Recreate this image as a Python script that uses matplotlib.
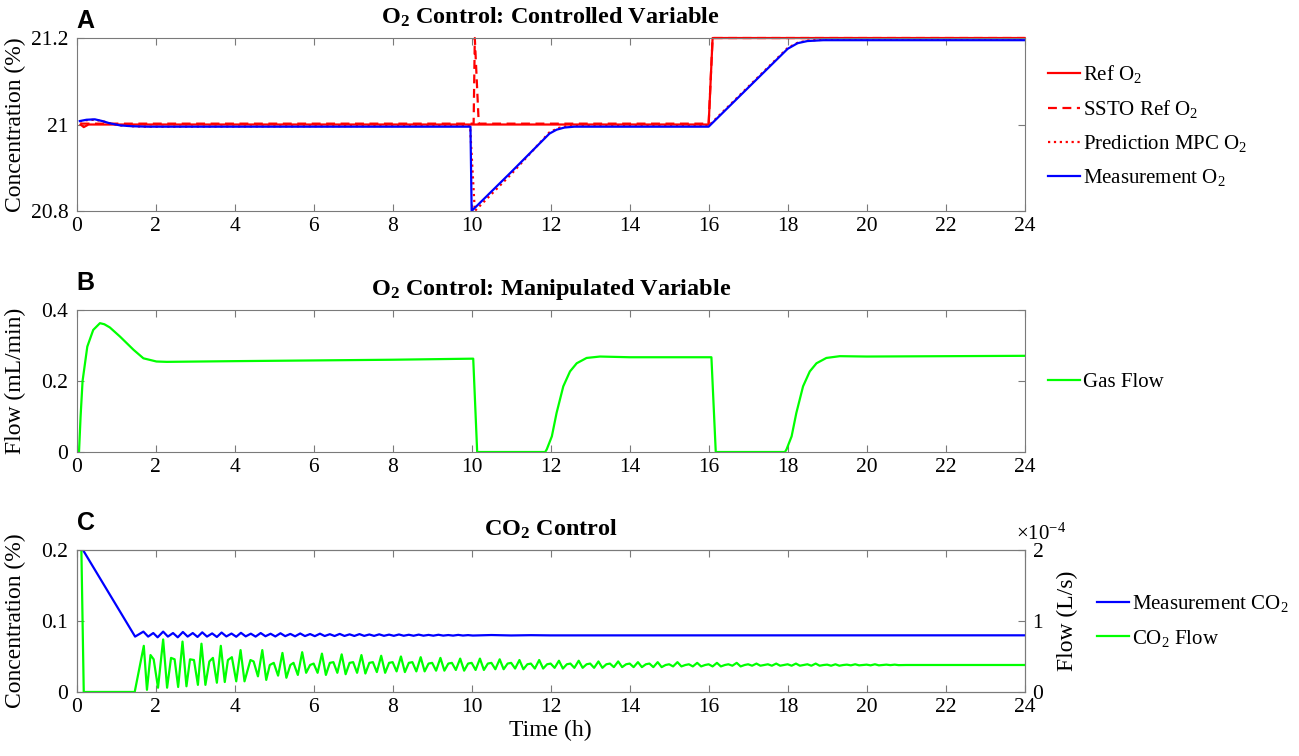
import numpy as np
import matplotlib
matplotlib.use('Agg')  # sem janela
import matplotlib.pyplot as plt
import matplotlib.transforms as mtransforms
from matplotlib.ticker import FormatStrFormatter, ScalarFormatter

plt.rcParams['font.family'] = ['Liberation Serif', 'DejaVu Serif']
plt.rcParams['mathtext.fontset'] = 'custom'
plt.rcParams['mathtext.rm'] = 'Liberation Serif'
plt.rcParams['mathtext.it'] = 'Liberation Serif:italic'
plt.rcParams['mathtext.bf'] = 'Liberation Serif:bold'

# -------------------------------------------------------
# dados (tempo em h)
# -------------------------------------------------------

# painel A - O2 (%)
ref_o2 = [(0.10, 21.0), (0.18, 20.994), (0.30, 21.0), (16.0, 21.0), (16.1, 21.2), (24.0, 21.2)]
ssto_o2 = [(0.10, 21.002), (10.05, 21.002), (10.08, 21.2), (10.18, 21.002),
           (16.0, 21.002), (16.1, 21.2), (24.0, 21.2)]
pred_o2 = [(0.08, 21.007), (0.25, 21.010), (0.46, 21.011), (0.65, 21.008), (0.83, 21.003),
           (1.10, 20.998), (1.40, 20.996), (1.80, 20.995), (9.96, 20.997), (10.08, 20.80),
           (11.0, 20.885), (11.97, 20.982), (12.2, 20.992), (12.45, 20.997), (16.0, 20.997),
           (17.0, 21.087), (18.0, 21.177), (18.25, 21.189), (18.5, 21.194), (18.9, 21.196),
           (24.0, 21.196)]
meas_o2 = [(0.08, 21.008), (0.25, 21.011), (0.46, 21.012), (0.65, 21.008), (0.83, 21.003),
           (1.10, 20.998), (1.40, 20.996), (1.80, 20.995), (9.97, 20.995), (10.0, 20.80),
           (11.0, 20.89), (11.97, 20.979), (12.15, 20.988), (12.35, 20.993), (12.6, 20.995),
           (16.0, 20.995), (17.0, 21.085), (18.0, 21.175), (18.25, 21.188), (18.5, 21.193),
           (18.9, 21.195), (24.0, 21.195)]

# painel B - vazao de gas (mL/min)
gas_flow = [(0.06, 0.0), (0.10, 0.10), (0.15, 0.20), (0.27, 0.297), (0.42, 0.344),
            (0.59, 0.363), (0.70, 0.360), (0.84, 0.351), (1.10, 0.325), (1.44, 0.288),
            (1.69, 0.264), (2.02, 0.255), (2.28, 0.254), (4.0, 0.256), (6.0, 0.258),
            (8.0, 0.260), (10.04, 0.263), (10.14, 0.0), (11.86, 0.0), (11.90, 0.007),
            (12.03, 0.044), (12.15, 0.110), (12.32, 0.185), (12.49, 0.227), (12.66, 0.250),
            (12.91, 0.265), (13.25, 0.269), (14.0, 0.267), (16.07, 0.267), (16.18, 0.0),
            (17.93, 0.0), (17.97, 0.007), (18.10, 0.044), (18.22, 0.110), (18.39, 0.185),
            (18.56, 0.227), (18.73, 0.250), (18.98, 0.265), (19.32, 0.270), (20.0, 0.269),
            (22.0, 0.270), (24.0, 0.271)]

# painel C - CO2 medido (%)
meas_co2 = [(0.16, 0.200), (1.48, 0.078),
            (1.69, 0.085), (1.81, 0.078), (1.94, 0.083), (2.05, 0.077),
            (2.19, 0.085), (2.31, 0.078), (2.44, 0.083), (2.56, 0.077),
            (2.69, 0.0845), (2.81, 0.078), (2.94, 0.083), (3.06, 0.0775),
            (3.18, 0.084), (3.30, 0.078), (3.43, 0.0825), (3.55, 0.0775),
            (3.67, 0.0837), (3.79, 0.0782), (3.92, 0.0823), (4.04, 0.0778),
            (4.16, 0.0833), (4.28, 0.0783), (4.41, 0.0821), (4.53, 0.0780),
            (4.66, 0.0830), (4.78, 0.0785), (4.91, 0.0820), (5.03, 0.0782),
            (5.16, 0.0827), (5.28, 0.0786), (5.41, 0.0818), (5.53, 0.0784),
            (5.66, 0.0824), (5.78, 0.0787), (5.91, 0.0816), (6.03, 0.0786),
            (6.16, 0.0821), (6.28, 0.0788), (6.41, 0.0814), (6.53, 0.0788),
            (6.66, 0.0818), (6.78, 0.0789), (6.91, 0.0812), (7.03, 0.0789),
            (7.16, 0.0815), (7.28, 0.0790), (7.41, 0.0810), (7.53, 0.0790),
            (7.66, 0.0812), (7.78, 0.0791), (7.91, 0.0808), (8.03, 0.0791),
            (8.16, 0.0810), (8.28, 0.0792), (8.41, 0.0806), (8.53, 0.0792),
            (8.66, 0.0808), (8.78, 0.0793), (8.91, 0.0804), (9.03, 0.0793),
            (9.16, 0.0806), (9.28, 0.0794), (9.41, 0.0802), (9.53, 0.0794),
            (9.66, 0.0804), (9.78, 0.0795), (9.91, 0.0801), (10.03, 0.0795),
            (10.5, 0.0802), (11.0, 0.0796), (11.5, 0.0800), (12.0, 0.0797),
            (24.0, 0.0798)]

# painel C - vazao de CO2 (x1e-4 L/s)
co2_flow = [
    (0.12, 2.0), (0.18, 0.0), (1.47, 0.0),
    (1.70, 0.65), (1.78, 0.03), (1.87, 0.52), (1.95, 0.46), (2.06, 0.06),
    (2.19, 0.74), (2.29, 0.06), (2.39, 0.48), (2.48, 0.46), (2.57, 0.07),
    (2.68, 0.71), (2.78, 0.08), (2.87, 0.46), (2.97, 0.45), (3.07, 0.10),
    (3.16, 0.68), (3.26, 0.10), (3.36, 0.43), (3.45, 0.48), (3.55, 0.13),
    (3.65, 0.65), (3.75, 0.14), (3.83, 0.45), (3.93, 0.49), (4.04, 0.15),
    (4.15, 0.59), (4.25, 0.15), (4.40, 0.45), (4.48, 0.43), (4.59, 0.22),
    (4.70, 0.59), (4.80, 0.17), (4.89, 0.38), (4.99, 0.41), (5.10, 0.23),
    (5.21, 0.55), (5.31, 0.20), (5.41, 0.38), (5.49, 0.41), (5.60, 0.24),
    (5.71, 0.56), (5.81, 0.27), (5.91, 0.38), (6.00, 0.40), (6.10, 0.27),
    (6.21, 0.54), (6.31, 0.24), (6.41, 0.41), (6.50, 0.42), (6.60, 0.27),
    (6.71, 0.53), (6.81, 0.25), (6.91, 0.41), (7.00, 0.42), (7.10, 0.27),
    (7.21, 0.52), (7.31, 0.26), (7.41, 0.41), (7.50, 0.42), (7.60, 0.28),
    (7.71, 0.51), (7.81, 0.27), (7.91, 0.41), (8.00, 0.42), (8.10, 0.29),
    (8.21, 0.50), (8.31, 0.28), (8.41, 0.41), (8.50, 0.42), (8.60, 0.29),
    (8.71, 0.49), (8.81, 0.29), (8.91, 0.40), (9.00, 0.41), (9.10, 0.30),
    (9.21, 0.48), (9.31, 0.30), (9.41, 0.40), (9.50, 0.41), (9.60, 0.31),
    (9.71, 0.47), (9.81, 0.30), (9.91, 0.40), (10.00, 0.41), (10.10, 0.31),
    (10.21, 0.47), (10.31, 0.31), (10.41, 0.40), (10.50, 0.41), (10.60, 0.32),
    (10.71, 0.46), (10.81, 0.32), (10.91, 0.40), (11.00, 0.41), (11.10, 0.33),
    (11.21, 0.45), (11.31, 0.32), (11.41, 0.39), (11.50, 0.40), (11.60, 0.33),
    (11.71, 0.45), (11.81, 0.33), (11.91, 0.39), (12.00, 0.40), (12.10, 0.34),
    (12.21, 0.44), (12.31, 0.33), (12.41, 0.39), (12.50, 0.40), (12.60, 0.34),
    (12.71, 0.44), (12.81, 0.34), (12.91, 0.39), (13.00, 0.40), (13.10, 0.34),
    (13.21, 0.43), (13.31, 0.34), (13.41, 0.39), (13.50, 0.40), (13.60, 0.35),
    (13.71, 0.43), (13.81, 0.35), (13.91, 0.39), (14.00, 0.40), (14.10, 0.35),
    (14.21, 0.42), (14.31, 0.35), (14.41, 0.39), (14.50, 0.40), (14.60, 0.35),
    (14.71, 0.42), (14.81, 0.35), (14.91, 0.38), (15.00, 0.39), (15.10, 0.36),
    (15.21, 0.42), (15.31, 0.36), (15.41, 0.38), (15.50, 0.39), (15.60, 0.36),
    (15.71, 0.41), (15.81, 0.36), (15.91, 0.38), (16.00, 0.39), (16.10, 0.36),
    (16.21, 0.41), (16.31, 0.36), (16.41, 0.38), (16.50, 0.39), (16.60, 0.37),
    (16.71, 0.41), (16.81, 0.36), (16.91, 0.38), (17.00, 0.39), (17.10, 0.37),
    (17.21, 0.40), (17.31, 0.37), (17.41, 0.38), (17.50, 0.39), (17.60, 0.37),
    (17.71, 0.40), (17.81, 0.37), (17.91, 0.38), (18.00, 0.39), (18.10, 0.37),
    (18.21, 0.40), (18.31, 0.37), (18.41, 0.38), (18.50, 0.39), (18.60, 0.37),
    (18.71, 0.40), (18.81, 0.37), (18.91, 0.38), (19.00, 0.385), (19.10, 0.37),
    (19.21, 0.39), (19.31, 0.37), (19.41, 0.38), (19.50, 0.385), (19.60, 0.375),
    (19.71, 0.39), (19.81, 0.375), (19.91, 0.38), (20.00, 0.385), (20.10, 0.375),
    (20.21, 0.39), (20.31, 0.375), (20.41, 0.38), (20.50, 0.385), (20.60, 0.378),
    (20.71, 0.385), (20.81, 0.378), (21.00, 0.38), (24.00, 0.38),
]

x_ticks = [0, 2, 4, 6, 8, 10, 12, 14, 16, 18, 20, 22, 24]
yticks_a = [20.8, 21.0, 21.2]
yticks_b = [0, 0.2, 0.4]
yticks_c = [0, 0.1, 0.2]
yticks_c2 = [0, 1e-4, 2e-4]

# -------------------------------------------------------
# estilo
# -------------------------------------------------------

CINZA = '#7a7a7a'
VERMELHO = '#ff0000'
AZUL = '#0000ff'
VERDE = '#00ff00'
LW = 1.6
FS_TICK = 15.5
FS_LABEL = 17
FS_TITLE = 17.5
FS_LEG = 15


def xy(pontos):
    arr = np.array(pontos, dtype=float)
    return arr[:, 0], arr[:, 1]


def estilo_eixo(ax, direita=True):
    for s in ax.spines.values():
        s.set_color(CINZA)
        s.set_linewidth(0.8)
    ax.tick_params(direction='in', length=5, width=0.8, color=CINZA,
                   labelsize=FS_TICK, top=True, right=direita)
    ax.tick_params(axis='y', pad=6)
    ax.tick_params(axis='x', pad=4.5)
    ax.set_xlim(0, 24)
    ax.set_xticks(x_ticks)
    ax.yaxis.set_major_formatter(FormatStrFormatter('%g'))


def legenda(ax, handles, x_fig, y_fig):
    ax.legend(handles=handles, loc='center left', bbox_to_anchor=(x_fig, y_fig),
              bbox_transform=ax.figure.transFigure, frameon=False, fontsize=FS_LEG,
              handlelength=1.55, handletextpad=0.15, labelspacing=0.63, borderpad=0,
              borderaxespad=0)


fig = plt.figure(figsize=(12.99, 7.56), dpi=100)
esq, larg = 0.0590, 0.7298
ax_a = fig.add_axes([esq, 0.7209, larg, 0.2288])
ax_b = fig.add_axes([esq, 0.4021, larg, 0.1878])
ax_c = fig.add_axes([esq, 0.0847, larg, 0.1878])

# ---------------- painel A ----------------
l1, = ax_a.plot(*xy(ref_o2), color=VERMELHO, lw=LW, label='Ref O$_2$', clip_on=False)
l2, = ax_a.plot(*xy(ssto_o2), color=VERMELHO, lw=LW, dashes=(4, 2.5),
                label='SSTO Ref O$_2$', clip_on=False)
l3, = ax_a.plot(*xy(pred_o2), color=VERMELHO, lw=LW, ls=':', label='Prediction MPC O$_2$')
l4, = ax_a.plot(*xy(meas_o2), color=AZUL, lw=LW, label='Measurement O$_2$')
estilo_eixo(ax_a)
ax_a.set_ylim(20.8, 21.2)
ax_a.set_yticks(yticks_a)
ax_a.set_ylabel('Concentration (%)', fontsize=FS_LABEL)
ax_a.yaxis.set_label_coords(-0.053, 0.5)
ax_a.set_title(r'O$_\mathbf{2}$ Control: Controlled Variable', fontsize=FS_TITLE,
               fontweight='bold', pad=10)
legenda(ax_a, [l1, l2, l3, l4], 0.8065, 0.834)

# ---------------- painel B ----------------
g1, = ax_b.plot(*xy(gas_flow), color=VERDE, lw=LW, label='Gas Flow')
estilo_eixo(ax_b)
ax_b.set_ylim(0, 0.4)
ax_b.set_yticks(yticks_b)
ax_b.set_ylabel('Flow (mL/min)', fontsize=FS_LABEL)
ax_b.yaxis.set_label_coords(-0.053, 0.5)
ax_b.set_title(r'O$_\mathbf{2}$ Control: Manipulated Variable', fontsize=FS_TITLE,
               fontweight='bold', pad=10.5)
legenda(ax_b, [g1], 0.8065, 0.4945)

# ---------------- painel C ----------------
c1, = ax_c.plot(*xy(meas_co2), color=AZUL, lw=LW, label='Measurement CO$_2$', zorder=3)
estilo_eixo(ax_c, direita=False)
ax_c.set_ylim(0, 0.2)
ax_c.set_yticks(yticks_c)
ax_c.set_ylabel('Concentration (%)', fontsize=FS_LABEL)
ax_c.yaxis.set_label_coords(-0.053, 0.5)
ax_c.set_xlabel('Time (h)', fontsize=FS_LABEL, labelpad=2)
ax_c.set_title(r'CO$_\mathbf{2}$ Control', fontsize=FS_TITLE, fontweight='bold', pad=10.5)

ax_c2 = ax_c.twinx()
t_co2, v_co2 = xy(co2_flow)
c2, = ax_c2.plot(t_co2, v_co2 * 1e-4, color=VERDE, lw=LW, label='CO$_2$ Flow')
for s in ax_c2.spines.values():
    s.set_color(CINZA)
    s.set_linewidth(0.8)
ax_c2.tick_params(direction='in', length=5, width=0.8, color=CINZA, labelsize=FS_TICK, pad=5)
ax_c2.set_ylim(0, 2e-4)
ax_c2.set_yticks(yticks_c2)
fmt = ScalarFormatter(useMathText=True)
fmt.set_powerlimits((-3, 3))
ax_c2.yaxis.set_major_formatter(fmt)
off = ax_c2.yaxis.get_offset_text()
off.set_fontsize(FS_TICK - 0.5)
off.set_ha('left')
off.set_transform(off.get_transform() +
                  mtransforms.ScaledTranslation(-6 / 72, 4 / 72, fig.dpi_scale_trans))
ax_c2.set_ylabel('Flow (L/s)', fontsize=FS_LABEL)
ax_c2.yaxis.set_label_coords(1.034, 0.5)
legenda(ax_c2, [c1, c2], 0.8443, 0.1786)

# letras dos paineis
for letra, y_px in [('A', 28), ('B', 290), ('C', 530)]:
    fig.text(0.0590, 1 - y_px / 756, letra, fontsize=18, fontweight='bold',
             family=['Liberation Sans', 'DejaVu Sans'], ha='left', va='baseline')

fig.savefig('out.png', dpi=100)
plt.close(fig)
